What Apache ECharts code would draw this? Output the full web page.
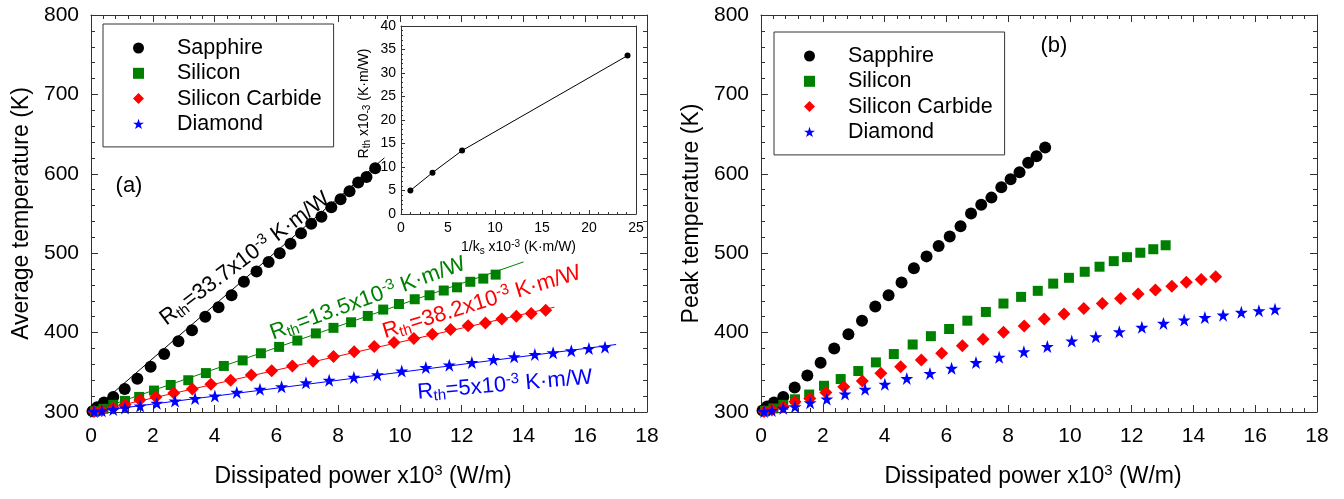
<!DOCTYPE html>
<html>
<head>
<meta charset="utf-8">
<script src="https://cdn.jsdelivr.net/npm/echarts@6/dist/echarts.min.js"></script>
<style>
html, body { margin: 0; padding: 0; background: #fff; }
#main { width: 1344px; height: 499px; }
</style>
</head>
<body>
<div id="main"></div>
<script>
// ---------- data ----------
const materials = ['Sapphire', 'Silicon', 'Silicon Carbide', 'Diamond'];
const colors = ['#000000', '#008000', '#ff0000', '#0000ff'];

// Dissipated power x10^3 (W/m)
const powerSapphire = [0.05, 0.2, 0.42, 0.72, 1.09, 1.5, 1.93, 2.37, 2.83, 3.27, 3.7, 4.13, 4.55, 4.95, 5.36, 5.75, 6.11, 6.46, 6.8, 7.13, 7.46, 7.78, 8.08, 8.37, 8.65, 8.92, 9.2];
const powerSilicon = [0.13, 0.4, 0.72, 1.1, 1.56, 2.04, 2.58, 3.15, 3.72, 4.3, 4.91, 5.5, 6.09, 6.68, 7.28, 7.85, 8.42, 8.96, 9.46, 9.97, 10.48, 10.96, 11.42, 11.85, 12.28, 12.7, 13.1];
const powerSiC = [0.1, 0.35, 0.72, 1.1, 1.58, 2.1, 2.68, 3.28, 3.88, 4.52, 5.19, 5.85, 6.52, 7.19, 7.85, 8.52, 9.17, 9.81, 10.45, 11.05, 11.64, 12.21, 12.77, 13.3, 13.77, 14.25, 14.72];
const powerDiamond = [0.1, 0.35, 0.72, 1.1, 1.59, 2.13, 2.72, 3.37, 4.01, 4.72, 5.47, 6.17, 6.96, 7.71, 8.51, 9.27, 10.06, 10.84, 11.6, 12.33, 13.03, 13.7, 14.37, 14.96, 15.55, 16.12, 16.64];

// Average temperature (K)
const avgSapphire = [301, 306, 312, 319, 329, 342, 357, 373, 389, 403, 420, 432, 447, 464, 477, 489, 500, 512, 525, 537, 546, 558, 568, 578, 589, 596, 607];
const avgSilicon = [301, 304, 309, 314, 319, 327, 334, 340, 349, 358, 365, 374, 382, 390, 399, 406, 413, 421, 429, 436, 442, 447, 453, 457, 464, 468, 473];
const avgSiC = [300.5, 302, 305, 309, 315, 319, 324, 329, 335, 340, 346.5, 352, 358, 364, 370, 376, 382.5, 387.5, 392.5, 398, 404, 408.5, 412, 417, 420.6, 424, 428];
const avgDiamond = [300.5, 301.5, 303, 305, 307.5, 311, 313.8, 317, 320, 324.7, 328.5, 331.8, 336.8, 340, 343.6, 347, 351.5, 356, 359, 362.4, 366.2, 369.5, 372.5, 374.5, 377, 380, 381.7];

// Peak temperature (K)
const peakSapphire = [302, 307, 312, 319, 331, 346, 362, 380, 398, 415, 433, 447, 463, 481, 496, 509, 521, 534, 550, 561, 570, 583, 593, 602, 614, 622, 633];
const peakSilicon = [301.5, 304.5, 309, 316, 322, 333, 341.5, 351.6, 362.5, 373, 385, 395.5, 404.5, 415, 426, 436.6, 445, 452.6, 461.7, 469, 476.6, 483, 490, 495, 500.6, 505, 510];
const peakSiC = [300.5, 302.5, 306.7, 313, 317, 324.7, 331.8, 339, 348.7, 357, 365.5, 374, 383.5, 391.6, 400.4, 408.4, 417, 423.4, 430.5, 436.8, 443, 448.5, 453.5, 458.5, 463.5, 467, 470.2];
const peakDiamond = [300.5, 302, 304.6, 306.7, 311.7, 316.3, 322.6, 328.5, 335, 342.3, 348.6, 355, 362.4, 369, 375.8, 382.5, 389.4, 394.8, 401, 406.6, 411.6, 415.8, 419, 422, 425.5, 427.6, 429.4];

// Thermal resistance R_th x10^-3 (K·m/W) against 1/k_s x10^-3 (K·m/W)
const rthValues = [33.7, 13.5, 8.8, 5];
const invConductivity = [24.1, 6.5, 3.35, 1.0];
const rthLabels = ['33.7', '13.5', '38.2', '5'];
const fitPowerEnd = [9.5, 14.0, 15.0, 17.0];
const baseTemp = 300;

const powers = [powerSapphire, powerSilicon, powerSiC, powerDiamond];
const avgTemps = [avgSapphire, avgSilicon, avgSiC, avgDiamond];
const peakTemps = [peakSapphire, peakSilicon, peakSiC, peakDiamond];

// ---------- styling ----------
const FONT = 'Liberation Sans';
const SQUARE = 'path://M0,0 L10,0 L10,10 L0,10 Z';
const DIAMOND = 'path://M5,0 L10,5 L5,10 L0,5 Z';
const STAR = 'path://M50,0 L61.8,35.1 L98.9,35.1 L68.9,56.8 L80.2,91.9 L50,70.2 L19.8,91.9 L31.1,56.8 L1.1,35.1 L38.2,35.1 Z';
const symbols = ['circle', SQUARE, DIAMOND, STAR];
const symbolSizes = [12, 10, 13, 13];
const frame = '#333';

function axis(o) {
  const big = !o.small;
  return {
    type: 'value',
    gridIndex: o.grid,
    position: o.position,
    min: o.min, max: o.max, interval: o.interval,
    axisLine: { show: true, onZero: false, lineStyle: { color: frame, width: 1 } },
    axisTick: { show: o.ticks !== false, inside: true, length: big ? 7 : 4, lineStyle: { color: frame } },
    minorTick: { show: o.ticks !== false, splitNumber: 5, length: big ? 4 : 2, lineStyle: { color: frame } },
    splitLine: { show: false },
    axisLabel: {
      show: !!o.labels,
      fontFamily: FONT, fontSize: big ? 21 : 14, color: '#000',
      margin: o.margin
    },
    name: o.name || '',
    nameLocation: 'middle',
    nameGap: o.nameGap,
    nameTextStyle: o.nameStyle
  };
}

const powerName = 'Dissipated power x10{sup|3} (W/m)';
const powerNameStyle = {
  fontFamily: FONT, fontSize: 23, color: '#000', lineHeight: 27, padding: [0, 12, 0, 0],
  rich: { sup: { fontFamily: FONT, fontSize: 15, lineHeight: 15, verticalAlign: 'top', color: '#000' } }
};
const tempNameStyle = { fontFamily: FONT, fontSize: 23, color: '#000' };

const xAxes = [
  axis({ grid: 0, position: 'bottom', min: 0, max: 18, interval: 2, labels: true, margin: 14, name: powerName, nameGap: 51, nameStyle: powerNameStyle }),
  axis({ grid: 0, position: 'top', min: 0, max: 18, interval: 2 }),
  axis({ grid: 1, position: 'bottom', min: 0, max: 18, interval: 2, labels: true, margin: 14, name: powerName, nameGap: 51, nameStyle: powerNameStyle }),
  axis({ grid: 1, position: 'top', min: 0, max: 18, interval: 2 }),
  axis({ grid: 2, small: true, position: 'bottom', min: 0, max: 25, interval: 5, labels: true, margin: 7,
    name: '1/k{sub|s} x10{sup|-3} (K·m/W)', nameGap: 25,
    nameStyle: { fontFamily: FONT, fontSize: 14, color: '#000', lineHeight: 17,
      rich: {
        sub: { fontFamily: FONT, fontSize: 10, lineHeight: 10, verticalAlign: 'bottom', color: '#000' },
        sup: { fontFamily: FONT, fontSize: 10, lineHeight: 10, verticalAlign: 'top', color: '#000' }
      } } }),
  axis({ grid: 2, small: true, position: 'top', min: 0, max: 25, interval: 5, ticks: false })
];
const yAxes = [
  axis({ grid: 0, position: 'left', min: 300, max: 800, interval: 100, labels: true, margin: 12, name: 'Average temperature (K)', nameGap: 58, nameStyle: tempNameStyle }),
  axis({ grid: 0, position: 'right', min: 300, max: 800, interval: 100 }),
  axis({ grid: 1, position: 'left', min: 300, max: 800, interval: 100, labels: true, margin: 12, name: 'Peak temperature (K)', nameGap: 58, nameStyle: tempNameStyle }),
  axis({ grid: 1, position: 'right', min: 300, max: 800, interval: 100 }),
  axis({ grid: 2, small: true, position: 'left', min: 0, max: 40, interval: 5, labels: true, margin: 5 }),
  axis({ grid: 2, small: true, position: 'right', min: 0, max: 40, interval: 5, ticks: false })
];

const series = [];
materials.forEach((m, i) => {
  const pts = (temps) => powers[i].map((p, k) => [p, temps[k]]);
  series.push({
    name: m, type: 'scatter', xAxisIndex: 0, yAxisIndex: 0,
    data: pts(avgTemps[i]), symbol: symbols[i], symbolSize: symbolSizes[i],
    itemStyle: { color: colors[i], opacity: 1 }, z: 3
  });
  series.push({
    name: m + ' fit', type: 'line', xAxisIndex: 0, yAxisIndex: 0,
    data: [[0, baseTemp], [fitPowerEnd[i], baseTemp + rthValues[i] * fitPowerEnd[i]]],
    showSymbol: false, symbol: 'none', silent: true,
    lineStyle: { color: colors[i], width: 1 }, z: 2
  });
  series.push({
    name: m, type: 'scatter', xAxisIndex: 2, yAxisIndex: 2,
    data: pts(peakTemps[i]), symbol: symbols[i], symbolSize: symbolSizes[i],
    itemStyle: { color: colors[i], opacity: 1 }, z: 3
  });
});
const insetData = invConductivity.map((x, i) => [x, rthValues[i]]).sort((a, b) => a[0] - b[0]);
series.push({
  name: 'R_th', type: 'line', xAxisIndex: 4, yAxisIndex: 4,
  data: insetData, symbol: 'circle', symbolSize: 6, showSymbol: true,
  itemStyle: { color: '#000' }, lineStyle: { color: '#000', width: 1 }, z: 3
});

// legend: 11px icon, then the label pushed right by text padding
function legendAt(left, top) {
  return {
    data: materials, orient: 'vertical', left: left, top: top,
    itemWidth: 11, itemHeight: 11, itemGap: 3.3, padding: [13, 12, 12, 30],
    borderColor: frame, borderWidth: 1, selectedMode: false,
    textStyle: { fontFamily: FONT, fontSize: 21.5, color: '#000', lineHeight: 21, padding: [0, 0, 0, 28] }
  };
}

const chart = echarts.init(document.getElementById('main'), null, { renderer: 'canvas' });
chart.setOption({
  animation: false,
  backgroundColor: '#fff',
  grid: [
    { left: 91, top: 15, width: 556, height: 397 },
    { left: 761, top: 15, width: 556, height: 397 },
    { left: 401, top: 26, width: 235, height: 188 }
  ],
  xAxis: xAxes,
  yAxis: yAxes,
  legend: [legendAt(103, 24), legendAt(774, 32)],
  series: series
});

// ---------- annotations ----------
function richRth(value, color) {
  const base = { fontFamily: FONT, fontSize: 22, lineHeight: 25, fill: color };
  return {
    text: '{a|R}{sub|th}{a|=' + value + 'x10}{sup|-3}{a| K·m/W}',
    rich: {
      a: base,
      sub: { fontFamily: FONT, fontSize: 15, lineHeight: 15, verticalAlign: 'bottom', fill: color },
      sup: { fontFamily: FONT, fontSize: 15, lineHeight: 15, verticalAlign: 'top', fill: color }
    },
    align: 'center', verticalAlign: 'middle', fill: color
  };
}

const rthNotePos = [[4.98, 493], [8.96, 443], [12.65, 438], [13.4, 334]];
const rthNoteAngle = [37, 20, 17, 5];
const toPx = (idx, pt) => chart.convertToPixel({ xAxisIndex: idx, yAxisIndex: idx }, pt);

const graphics = materials.map((m, i) => {
  const p = toPx(0, rthNotePos[i]);
  return {
    type: 'text', x: p[0], y: p[1], rotation: rthNoteAngle[i] * Math.PI / 180,
    style: richRth(rthLabels[i], colors[i]), z: 10
  };
});
const pa = toPx(0, [1.23, 585]);
const pb = toPx(2, [9.48, 761]);
graphics.push({ type: 'text', x: pa[0], y: pa[1], style: { text: '(a)', fontFamily: FONT, fontSize: 22, fill: '#000', align: 'center', verticalAlign: 'middle' } });
graphics.push({ type: 'text', x: pb[0], y: pb[1], style: { text: '(b)', fontFamily: FONT, fontSize: 22, fill: '#000', align: 'center', verticalAlign: 'middle' } });
const pi = toPx(4, [0, 23.5]);
graphics.push({
  type: 'text', x: pi[0] - 37, y: pi[1], rotation: Math.PI / 2, z: 10,
  style: {
    text: '{a|R}{sub|th}{a| x10}{sub|-3}{a| (K·m/W)}',
    rich: {
      a: { fontFamily: FONT, fontSize: 14, lineHeight: 17, fill: '#000' },
      sub: { fontFamily: FONT, fontSize: 10, lineHeight: 10, verticalAlign: 'bottom', fill: '#000' }
    },
    align: 'center', verticalAlign: 'middle', fill: '#000'
  }
});
chart.setOption({ graphic: graphics });
</script>
</body>
</html>
